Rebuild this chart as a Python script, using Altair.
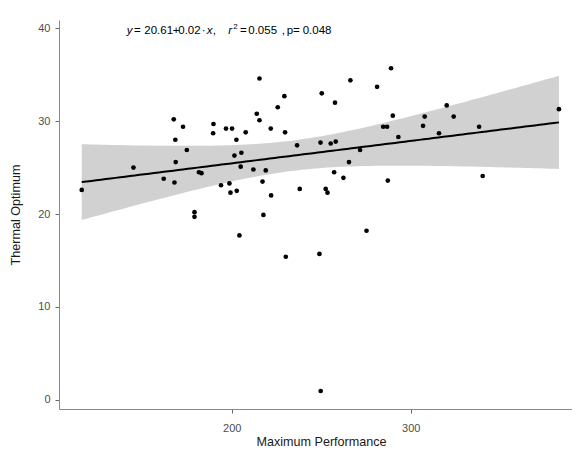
import altair as alt
import pandas as pd
import numpy as np

# ---- data ----
max_perf = [116.2, 145.1, 162.0, 168.0, 168.7, 168.5, 167.6, 172.8, 174.9, 179.2,
            179.2, 181.7, 183.1, 189.8, 189.6, 194.0, 196.8, 200.2, 198.7, 199.3,
            202.6, 202.8, 201.5, 205.4, 205.0, 207.8, 204.3, 212.1, 214.0, 215.5,
            215.5, 217.2, 219.0, 217.7, 221.8, 222.0, 225.7, 229.4, 229.8, 230.2,
            236.5, 238.0, 289.0, 266.3, 250.3, 281.2, 257.7, 290.0, 284.6, 286.8,
            307.8, 306.9, 320.1, 324.0, 315.8, 338.2, 340.2, 382.8, 249.6, 255.3,
            258.1, 271.7, 293.1, 265.5, 257.2, 262.4, 287.2, 252.5, 253.5, 275.3,
            249.0, 249.7]
thermal_opt = [22.6, 25.0, 23.8, 23.4, 25.6, 28.0, 30.2, 29.4, 26.9, 20.2,
               19.7, 24.5, 24.4, 29.7, 28.7, 23.1, 29.2, 29.2, 23.3, 22.3,
               28.0, 22.5, 26.3, 26.6, 25.1, 28.8, 17.7, 24.8, 30.8, 30.1,
               34.6, 23.5, 24.7, 19.9, 29.2, 22.0, 31.5, 32.7, 28.8, 15.4,
               27.4, 22.7, 35.7, 34.4, 33.0, 33.7, 32.0, 30.6, 29.4, 29.4,
               30.5, 29.5, 31.7, 30.5, 28.7, 29.4, 24.1, 31.3, 27.7, 27.6,
               27.8, 26.9, 28.3, 25.6, 24.5, 23.9, 23.6, 22.7, 22.3, 18.2,
               15.7, 0.94]

x_ticks = [200, 300]
y_ticks = [0, 10, 20, 30, 40]
x_title = "Maximum Performance"
y_title = "Thermal Optimum"

eq_pieces = ["y", "=", "20.61", "+", "0.02", "·", "x", ",", "r", "2", "=",
             "0.055", ",", "p=", "0.048"]
eq_italic = [True, False, False, False, False, False, True, False, True,
             False, False, False, False, False, False]
eq_anchor_x = [141.3]
eq_anchor_y = [39.7]

# ---- regression (least squares fit and confidence band, 99% level) ----
xa = np.array(max_perf)
ya = np.array(thermal_opt)
n = len(xa)
slope, intercept = np.polyfit(xa, ya, 1)
grid = np.linspace(xa.min(), xa.max(), 100)
fit = intercept + slope * grid
resid = ya - (intercept + slope * xa)
s = np.sqrt(np.sum(resid ** 2) / (n - 2))
sxx = np.sum((xa - xa.mean()) ** 2)
se = s * np.sqrt(1.0 / n + (grid - xa.mean()) ** 2 / sxx)
t_crit = 2.648
band_df = pd.DataFrame({"x": grid, "fit": fit, "lo": fit - t_crit * se, "hi": fit + t_crit * se})
pts_df = pd.DataFrame({"x": max_perf, "y": thermal_opt})

FONT = "Liberation Sans"
xscale = alt.Scale(domain=[103.5, 390.1], nice=False, zero=False)
yscale = alt.Scale(domain=[-1.0, 40.9], nice=False, zero=False)

xaxis = alt.Axis(values=x_ticks, title=x_title, grid=False, tickSize=4,
                 labelPadding=9, titleX=262, titleY=32, titleBaseline="middle")
yaxis = alt.Axis(values=y_ticks, title=y_title, grid=False, tickSize=4,
                 labelPadding=5, titleX=-44, titleBaseline="middle")

band = alt.Chart(band_df).mark_area(color="#999999", opacity=0.45).encode(
    x=alt.X("x:Q", scale=xscale, axis=xaxis),
    y=alt.Y("lo:Q", scale=yscale, axis=yaxis),
    y2="hi:Q",
)
line = alt.Chart(band_df).mark_line(color="black", strokeWidth=2).encode(
    x=alt.X("x:Q", scale=xscale),
    y=alt.Y("fit:Q", scale=yscale),
)
points = alt.Chart(pts_df).mark_circle(size=22, color="black", opacity=1).encode(
    x=alt.X("x:Q", scale=xscale),
    y=alt.Y("y:Q", scale=yscale),
)

piece_dx = [0, 7.3, 17.6, 46, 51.6, 75, 80, 86, 101.6, 106.6, 113.3, 121.6, 155, 160, 176]
texts = []
for i, piece in enumerate(eq_pieces):
    sup = (i == 9)
    tdf = pd.DataFrame({"x": eq_anchor_x, "y": eq_anchor_y, "t": [piece]})
    texts.append(
        alt.Chart(tdf).mark_text(
            align="left", baseline="middle", dx=piece_dx[i], dy=-4 if sup else 0,
            fontSize=8 if sup else 11.5, font=FONT, color="black",
            fontStyle="italic" if eq_italic[i] else "normal",
        ).encode(
            x=alt.X("x:Q", scale=xscale),
            y=alt.Y("y:Q", scale=yscale),
            text="t:N",
        )
    )

chart = alt.layer(band, line, points, *texts).properties(
    width=513, height=389,
    padding={"left": 51, "top": 12, "right": 0, "bottom": 41},
    autosize=alt.AutoSizeParams(type="none"),
).configure_view(stroke=None).configure_axis(
    labelFont=FONT, titleFont=FONT, labelFontSize=11, titleFontSize=12.6,
    labelColor="#4d4d4d", titleColor="#1a1a1a", titleFontWeight="normal",
    domainColor="#8a8a8a", tickColor="#666666", domainWidth=1, tickWidth=1,
)

chart.save("out.html", embed_options={"renderer": "svg", "actions": False})
